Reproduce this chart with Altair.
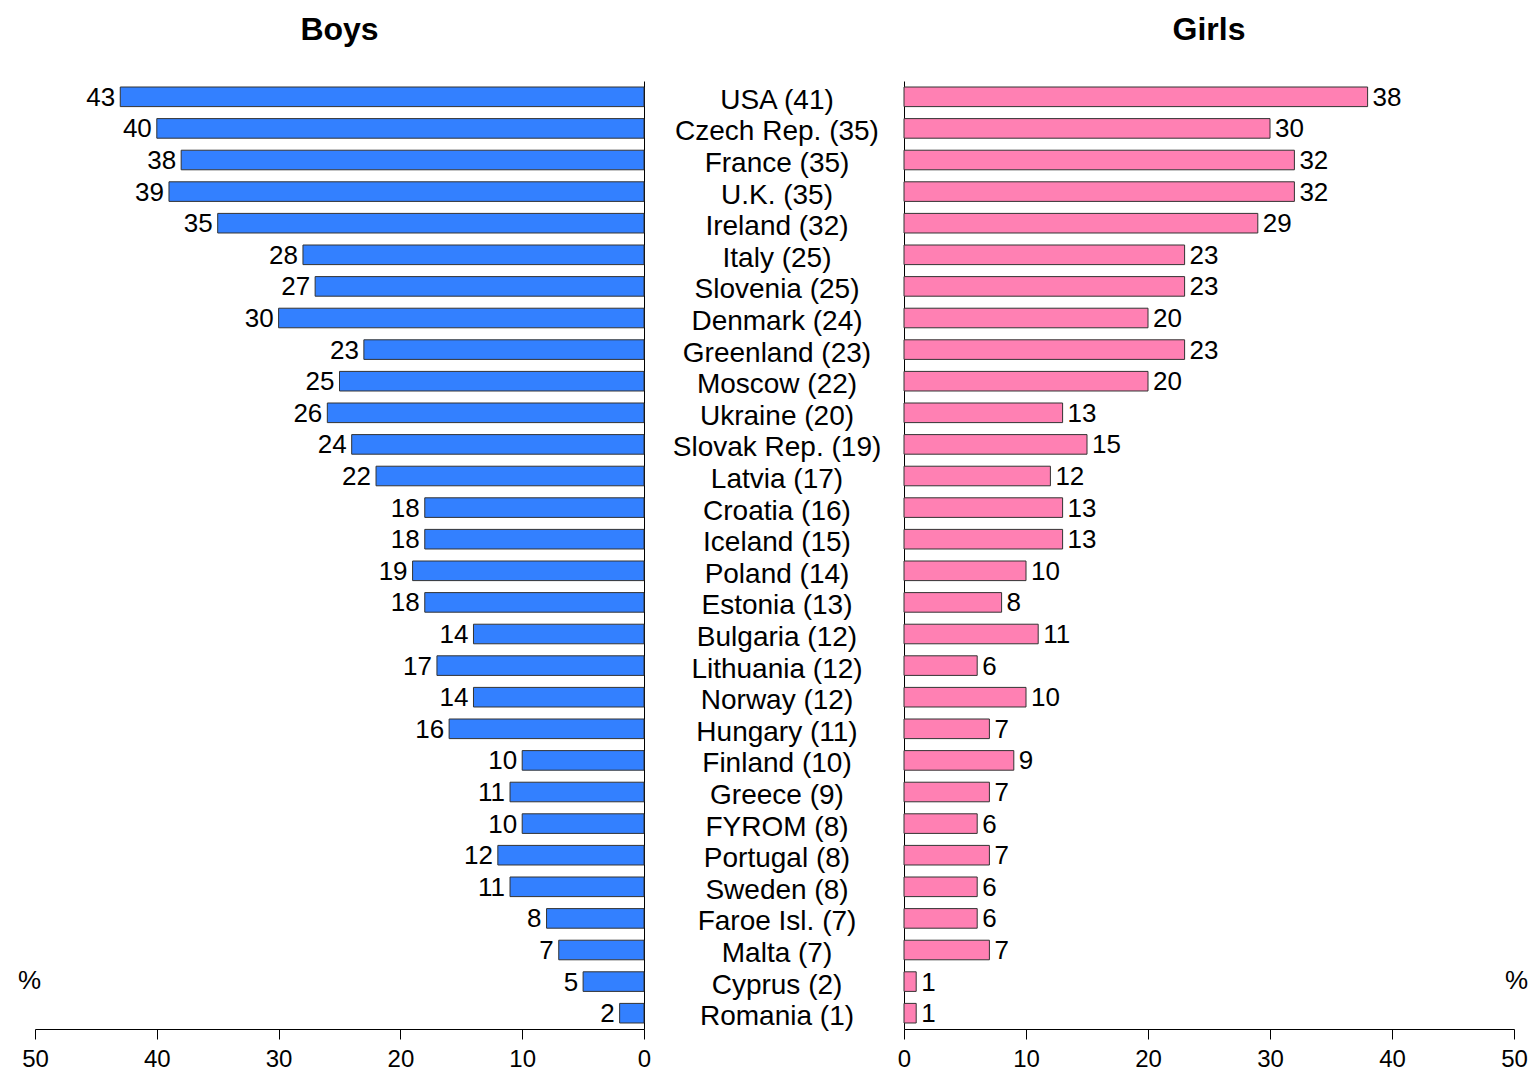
import altair as alt
import pandas as pd

countries = ["USA (41)", "Czech Rep. (35)", "France (35)", "U.K. (35)", "Ireland (32)",
             "Italy (25)", "Slovenia (25)", "Denmark (24)", "Greenland (23)", "Moscow (22)",
             "Ukraine (20)", "Slovak Rep. (19)", "Latvia (17)", "Croatia (16)", "Iceland (15)",
             "Poland (14)", "Estonia (13)", "Bulgaria (12)", "Lithuania (12)", "Norway (12)",
             "Hungary (11)", "Finland (10)", "Greece (9)", "FYROM (8)", "Portugal (8)",
             "Sweden (8)", "Faroe Isl. (7)", "Malta (7)", "Cyprus (2)", "Romania (1)"]
boys = [43, 40, 38, 39, 35, 28, 27, 30, 23, 25, 26, 24, 22, 18, 18, 19, 18, 14, 17, 14,
        16, 10, 11, 10, 12, 11, 8, 7, 5, 2]
girls = [38, 30, 32, 32, 29, 23, 23, 20, 23, 20, 13, 15, 12, 13, 13, 10, 8, 11, 6, 10,
         7, 9, 7, 6, 7, 6, 6, 7, 1, 1]
ticks = [0, 10, 20, 30, 40, 50]

df = pd.DataFrame({"country": countries, "boys": boys, "girls": girls})

FONT = "Liberation Sans"
H = 948
MIDW = 260
yscale = alt.Scale(domain=countries, paddingInner=0.38, paddingOuter=0.19)


def xaxis(title_x):
    return alt.Axis(values=ticks, tickSize=10, tickColor="black", domainColor="black",
                    labelFontSize=24, labelFont=FONT, labelColor="black", labelPadding=8,
                    labelFlush=False, labelOverlap=False,
                    grid=False, title="%", titleFont=FONT, titleFontSize=26,
                    titleFontWeight="normal", titleX=title_x, titleY=-49,
                    titleAlign="center", titleBaseline="middle", titleAngle=0)


left_base = alt.Chart(df).encode(
    y=alt.Y("country:N", scale=yscale,
            axis=alt.Axis(orient="right", labels=False, ticks=False, title=None,
                          domainColor="black", grid=False)),
    x=alt.X("boys:Q", scale=alt.Scale(domain=[0, 50], reverse=True), axis=xaxis(-6)),
)
left = (left_base.mark_bar(color="#3380FF", stroke="#333333", strokeWidth=1)
        + left_base.mark_text(align="right", baseline="middle", dx=-5, dy=1,
                              fontSize=26, font=FONT, color="black").encode(text="boys:Q")
        ).properties(width=609, height=H,
                     title=alt.Title("Boys", fontSize=32, font=FONT, fontWeight="bold",
                                     anchor="middle", baseline="alphabetic", offset=9))

mid = alt.Chart(df).mark_text(fontSize=28, font=FONT, color="black", baseline="middle", dy=4).encode(
    y=alt.Y("country:N", scale=yscale, axis=None),
    x=alt.value(MIDW / 2 + 3),
    text="country:N",
).properties(width=MIDW, height=H)

right_base = alt.Chart(df).encode(
    y=alt.Y("country:N", scale=yscale,
            axis=alt.Axis(orient="left", labels=False, ticks=False, title=None,
                          domainColor="black", grid=False)),
    x=alt.X("girls:Q", scale=alt.Scale(domain=[0, 50]), axis=xaxis(612)),
)
right = (right_base.mark_bar(color="#FF80B3", stroke="#333333", strokeWidth=1)
         + right_base.mark_text(align="left", baseline="middle", dx=5, dy=1,
                                fontSize=26, font=FONT, color="black").encode(text="girls:Q")
         ).properties(width=610, height=H,
                      title=alt.Title("Girls", fontSize=32, font=FONT, fontWeight="bold",
                                      anchor="middle", baseline="alphabetic", offset=9))

chart = alt.hconcat(left, mid, right, spacing=0, bounds="flush").properties(
    padding={"left": 9, "top": 6, "right": 0, "bottom": 0}
).configure_view(stroke=None).configure_concat(spacing=0)

chart.save("out.html", embed_options={"renderer": "svg", "actions": False})
